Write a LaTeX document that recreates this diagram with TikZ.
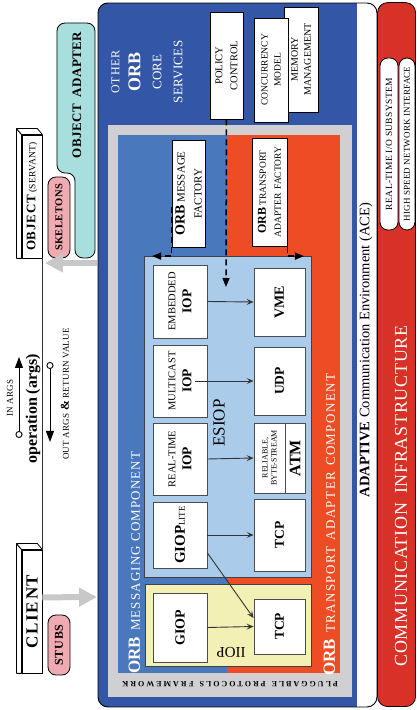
\documentclass[tikz,border=0pt]{standalone}
\usepackage{fontspec}
\setmainfont{Liberation Serif}
\usetikzlibrary{arrows.meta,positioning,calc}
\definecolor{orbcol}{RGB}{52,86,166}
\definecolor{msgcol}{RGB}{74,120,188}
\definecolor{trcol}{RGB}{238,76,36}
\definecolor{ppfcol}{RGB}{208,208,210}
\definecolor{esiopcol}{RGB}{170,204,234}
\definecolor{iiopcol}{RGB}{242,240,180}
\definecolor{infcol}{RGB}{216,50,40}
\definecolor{oacol}{RGB}{168,222,222}
\definecolor{stubcol}{RGB}{240,170,178}
\definecolor{garrcol}{RGB}{200,200,202}
\newcommand{\fsz}[2]{\fontsize{#1}{#2}\selectfont}
\newcommand{\trk}[1]{\addfontfeatures{LetterSpace=#1}}

\begin{document}
\begin{tikzpicture}[
  x=1pt, y=1pt, rotate=90, transform shape,
  region/.style={rectangle, inner sep=0pt, anchor=south west},
  box/.style={rectangle, draw=black!70, fill=white, line width=0.9pt,
              inner sep=0pt, align=center},
  svcbox/.style={box, draw=black},
  lbl/.style={inner sep=0pt, align=center},
  pill/.style={rectangle, rounded corners=8pt, draw=black, line width=0.8pt,
               inner sep=0pt, align=center},
  arr/.style={-{Stealth[length=7pt,width=6pt,inset=3pt]}, line width=0.9pt, black!80},
  darr/.style={-{Triangle[length=9pt,width=7pt]}, line width=1.5pt,
               dash pattern=on 6pt off 4pt},
  garr/.style={-{Triangle[length=18pt,width=18pt]}, line width=6pt, garrcol},
  face/.style={draw=black, fill=white, line width=0.8pt, line join=round},
  callarr/.style={{Circle[open,length=7pt,width=7pt]}-{Triangle[length=11pt,width=8pt]},
                  line width=0.9pt},
]
  \useasboundingbox (0,0) rectangle (710,417);

  % ACE frame with the ORB
  \begin{scope}
    \clip[rounded corners=10pt] (3,40) rectangle (707,319);
    \fill[white] (3,40) rectangle (707,319);
    \fill[orbcol] (3,60) rectangle (707,319);
  \end{scope}
  \draw[line width=0.9pt, rounded corners=10pt] (3,40) rectangle (707,319);
  \node[lbl, font=\fsz{14.5}{15}] (acel) at (360,51)
    {{\bfseries ADAPTIVE} Communication Environment (ACE)};

  % communication infrastructure
  \node[region, fill=infcol, draw=black, line width=0.8pt, rounded corners=10pt,
        minimum width=704, minimum height=38] (infra) at (3,1) {};
  \node[lbl, text=white, font=\fsz{18}{18}] (infral) at (214,16)
    {\trk{4}COMMUNICATION\hspace{9pt}INFRASTRUCTURE};
  \node[pill, fill=white, minimum width=172, minimum height=18, font=\fsz{9.5}{9}] (rtio) at (566,28)
    {\trk{4}REAL-TIME I/O SUBSYSTEM};
  \node[pill, fill=white, minimum width=172, minimum height=16, font=\fsz{9}{9}] (hsni) at (566,10)
    {\trk{2}HIGH SPEED NETWORK INTERFACE};

  % pluggable protocols framework
  \node[region, fill=ppfcol, minimum width=572, minimum height=244] (ppf) at (13,65) {};
  \node[region, fill=msgcol, minimum width=538, minimum height=109] (msgcomp) at (37,190) {};
  \node[region, fill=trcol, minimum width=538, minimum height=113] (trcomp) at (37,77) {};
  \node[region, fill=esiopcol, draw=black!75, line width=0.9pt,
        minimum width=321, minimum height=167] (esiop) at (132,105) {};
  \node[region, fill=iiopcol, draw=black!75, line width=0.9pt,
        minimum width=82, minimum height=166] (iiop) at (43,105) {};
  \node[lbl, rotate=90, font=\bfseries\fsz{8}{8}] (ppfl) at (26,187)
    {\trk{25}PLUGGABLE\hspace{6pt}PROTOCOLS\hspace{6pt}FRAMEWORK};
  \node[lbl, anchor=base west, text=white, font=\fsz{13}{13}] (msgl) at (36,277)
    {{\bfseries\fsz{17}{17}ORB}\hspace{6pt}{\trk{9}MESSAGING\hspace{4pt}COMPONENT}};
  \node[lbl, anchor=base west, text=white, font=\fsz{13}{13}] (trl) at (34,82)
    {{\bfseries\fsz{17}{17}ORB}\hspace{6pt}{\trk{11}TRANSPORT\hspace{6pt}ADAPTER\hspace{6pt}COMPONENT}};
  \node[lbl, font=\fsz{17}{17}] (esiopl) at (287,198) {ESIOP};
  \node[lbl, rotate=90, font=\fsz{15}{15}] (iiopl) at (58,186) {IIOP};

  % messaging protocols
  \node[box, minimum width=73, minimum height=54, font=\fsz{10.5}{16}] (eiop) at (408.5,237)
    {EMBEDDED\\{\bfseries\fsz{13.5}{13}IOP}};
  \node[box, minimum width=72, minimum height=54, font=\fsz{10.5}{16}] (miop) at (329,237)
    {MULTICAST\\{\bfseries\fsz{13.5}{13}IOP}};
  \node[box, minimum width=72, minimum height=54, font=\fsz{10.5}{16}] (riop) at (251,237)
    {REAL-TIME\\{\bfseries\fsz{13.5}{13}IOP}};
  \node[box, minimum width=66, minimum height=54, font=\bfseries\fsz{15}{15}] (giopl) at (175,237)
    {GIOP{\mdseries\fsz{9}{9}LITE}};
  \node[box, minimum width=69, minimum height=54, font=\bfseries\fsz{14}{14}] (giop) at (82.5,237) {GIOP};

  % transports
  \node[box, minimum width=68, minimum height=51, font=\bfseries\fsz{14}{14}] (vme) at (408,137.5) {VME};
  \node[box, minimum width=68, minimum height=51, font=\bfseries\fsz{13.5}{13}] (udp) at (329,137.5) {UDP};
  \node[box, minimum width=70, minimum height=51] (atm) at (252,137.5) {};
  \draw[line width=0.8pt, black!70] ($(atm.west)+(0,-5.5)$) -- ($(atm.east)+(0,-5.5)$);
  \node[lbl, font=\fsz{8}{9}] (atmtop) at (252,147.5) {RELIABLE,\\BYTE-STREAM};
  \node[lbl, font=\bfseries\fsz{16}{16}] (atml) at (252,122) {ATM};
  \node[box, minimum width=72, minimum height=51, font=\bfseries\fsz{13.5}{13}] (tcp) at (175,137.5) {TCP};
  \node[box, minimum width=55, minimum height=51, font=\bfseries\fsz{13.5}{13}] (tcpii) at (83.5,137.5) {TCP};

  % factories and other core services
  \node[box, draw=black, minimum width=107, minimum height=33, font=\fsz{11}{17}] (msgf) at (516.5,228.5)
    {{\bfseries\fsz{14}{14}ORB} MESSAGE\\FACTORY};
  \node[box, draw=black, minimum width=108, minimum height=35, font=\fsz{9.5}{15}] (trf) at (518,147.5)
    {{\bfseries\fsz{12}{12}ORB} TRANSPORT\\ADAPTER\hspace{4pt}FACTORY};
  \node[svcbox, minimum width=105, minimum height=34, font=\fsz{10}{13}] (mem) at (650.5,116)
    {MEMORY\\MANAGEMENT};
  \node[svcbox, minimum width=104, minimum height=34, font=\fsz{9.5}{13}] (conc) at (640,146)
    {CONCURRENCY\\MODEL};
  \node[svcbox, minimum width=107, minimum height=33, font=\fsz{10.5}{15}] (policy) at (644.5,190.5)
    {POLICY\\CONTROL};
  \node[lbl, text=white, font=\fsz{13}{21}] (oorbl) at (638,270)
    {{\fsz{12}{12}\trk{8}OTHER}\\{\bfseries\fsz{18}{18}ORB}\\{\trk{3}CORE}\\{\trk{3}SERVICES}};

  % protocol arrows
  \draw[arr] (eiop.south) -- (vme.north);
  \draw[arr] ($(miop.south)+(0,12)$) -- (udp.north);
  \draw[arr] (riop.south) -- (atm.north);
  \draw[arr] (giopl.south) -- (tcp.north);
  \draw[arr] ($(giopl.south)+(-18,0)$) -- ($(tcpii.north)+(8.5,0)$);
  \draw[arr] (giop.south) -- (tcpii.north);

  % factory and policy arrows
  \coordinate (poltip) at (423,191);
  \draw[darr] (policy.west) -- (poltip);
  \draw[darr] ($(msgf.north)+(-13.5,0)$) -| ($(esiop.north east)+(0,-8)$);
  \draw[darr] ($(trf.south)+(-15,0)$) -| ($(esiop.south east)+(0,8)$);

  % client and target object
  \node[box, draw=black, line width=0.8pt, minimum width=123, minimum height=20,
        font=\bfseries\fsz{17}{17}] (client) at (98.5,385) {\trk{10}CLIENT};
  \draw[face] (client.north west) -- ++(0,5) -- ($(client.north east)+(6,5)$) -- (client.north east) -- cycle;
  \draw[face] (client.north east) -- ++(6,5) -- ($(client.south east)+(6,5)$) -- (client.south east) -- cycle;
  \node[box, draw=black, line width=0.8pt, minimum width=123, minimum height=20] (object) at (513.5,385)
    {{\bfseries\fsz{13}{13}\trk{6}OBJECT} {\fsz{9.5}{9}\trk{3}(SERVANT)}};
  \draw[face] (object.north west) -- ++(0,5) -- ($(object.north east)+(6,5)$) -- (object.north east) -- cycle;
  \draw[face] (object.north east) -- ++(6,5) -- ($(object.south east)+(6,5)$) -- (object.south east) -- cycle;

  \draw[line width=0.8pt, black!80] (client.south east) -- (object.south west);
  \node[lbl, anchor=base, font=\bfseries\fsz{16}{16}] (oper) at (301,380) {operation (args)};
  \coordinate (inbeg) at (272,398);
  \coordinate (inend) at (353,398);
  \draw[callarr] (inbeg) -- (inend);
  \node[lbl, font=\fsz{9}{9}] (inl) at (312,407) {\trk{3}IN ARGS};
  \coordinate (outbeg) at (348,367);
  \coordinate (outend) at (268,367);
  \draw[callarr] (outbeg) -- (outend);
  \node[lbl, font=\fsz{9}{9}] (outl) at (316,352)
    {\trk{3}OUT ARGS {\bfseries\fsz{12}{12}\&} RETURN VALUE};

  \node[pill, fill=stubcol, minimum width=60, minimum height=22, font=\bfseries\fsz{12}{12}] (stubs) at (65,358)
    {\trk{6}STUBS};
  \node[pill, fill=stubcol, minimum width=81, minimum height=22, font=\bfseries\fsz{10.5}{10}] (skel) at (492.5,358)
    {\trk{4}SKELETONS};
  \draw[fill=oacol, line width=0.8pt, rounded corners=8pt]
    (452,322) -- (687,322) -- (687,360) -- (537,360) -- (537,342) -- (452,342) -- cycle;
  \node[lbl, font=\bfseries\fsz{13}{13}] (oal) at (615,340) {\trk{3}OBJECT\hspace{7pt}ADAPTER};

  % requests into and out of the ORB
  \coordinate (orbin) at (113,320);
  \draw[garr] ($(client.south west)+(76,0)$) -- (orbin);
  \coordinate (orbout) at (447,320);
  \coordinate (objin) at (447,372);
  \draw[garr] (orbout) -- (objin);
\end{tikzpicture}
\end{document}
